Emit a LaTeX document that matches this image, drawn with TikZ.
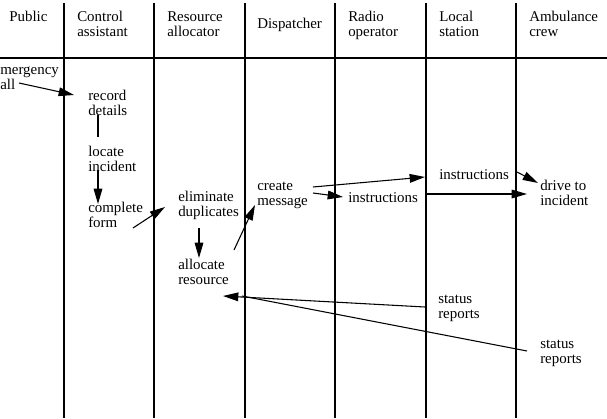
\documentclass[tikz,border=0pt]{standalone}
\usepackage{fontspec}
\setmainfont{Liberation Serif}
\usetikzlibrary{arrows.meta, calc}

\begin{document}
\begin{tikzpicture}[
    x=0.75pt, y=-0.75pt,
    every node/.style={font=\fontsize{11.2}{11.25}\selectfont, align=left,
      inner sep=0pt, anchor=base west},
    lane/.style={draw=black, line width=1pt},
    flow/.style={-{Triangle[length=11.5pt, width=6.5pt]}, draw=black, line width=0.8pt},
    link/.style={draw=black, line width=0.8pt}
  ]
    \useasboundingbox (0,0) rectangle (607,418);

    % swimlanes
    \draw[lane] (0,58) -- (607,58);
    \foreach \x in {64,154,245,335,426,516} {
      \draw[lane] (\x,3) -- (\x,418);
    }

    % lane headings (anchored on the last baseline)
    \node (hPublic) at (9,21) {Public};
    \node (hControl) at (77,36) {Control\\assistant};
    \node (hResource) at (167,36) {Resource\\allocator};
    \node (hDispatch) at (257,28) {Dispatcher};
    \node (hRadio) at (348,36) {Radio\\operator};
    \node (hLocal) at (439,36) {Local\\station};
    \node (hCrew) at (529,36) {Ambulance\\crew};

    % activities
    \node (call) at (0,89) {mergency\\all};
    \node (record) at (88,115) {record\\details};
    \node (locate) at (88,171) {locate\\incident};
    \node (complete) at (88,227) {complete\\form};
    \node (eliminate) at (178,216) {eliminate\\duplicates};
    \node (allocate) at (178,284) {allocate\\resource};
    \node (create) at (257,205) {create\\message};
    \node (instrRadio) at (348,202) {instructions};
    \node (instrLocal) at (439,179) {instructions};
    \node (drive) at (540,205) {drive to\\incident};
    \node (statusLocal) at (438,318) {status\\reports};
    \node (statusCrew) at (540,363) {status\\reports};

    % flows
    \draw[flow] ($(call.base west)+(19,-6)$) -- ($(record.base west)+(-14,-20)$);
    \draw[link] ($(record.base west)+(10,0)$) -- ($(locate.base west)+(10,-34)$);
    \draw[flow] ($(locate.base west)+(10,-1)$) -- ($(complete.base west)+(10,-23)$);
    \draw[flow] ($(complete.base west)+(45,1)$) -- ($(eliminate.base west)+(-13,-9)$);
    \draw[flow] ($(eliminate.base west)+(21,12)$) -- ($(allocate.base west)+(21,-26)$);
    \draw[flow] ($(allocate.base west)+(56,-34)$) -- ($(create.base west)+(-2,0)$);
    \draw[flow] ($(create.base west)+(56,-18)$) -- ($(instrLocal.base west)+(-14,-2)$);
    \draw[flow] ($(create.base west)+(56,-12)$) -- ($(instrRadio.base west)+(-5,-5)$);
    \draw[flow] ($(instrLocal.base west)+(78,-7)$) -- ($(drive.base west)+(-2,-22)$);
    \draw[flow] ($(instrRadio.base west)+(79,-8)$) -- ($(drive.base west)+(-13,-11)$);
    \draw[flow] ($(statusLocal.base west)+(-13,-11)$) -- ($(allocate.base west)+(45,12)$);
    \draw[link] ($(statusCrew.base west)+(-13,-12)$) -- ($(allocate.base west)+(64,12)$);
  \end{tikzpicture}
\end{document}
